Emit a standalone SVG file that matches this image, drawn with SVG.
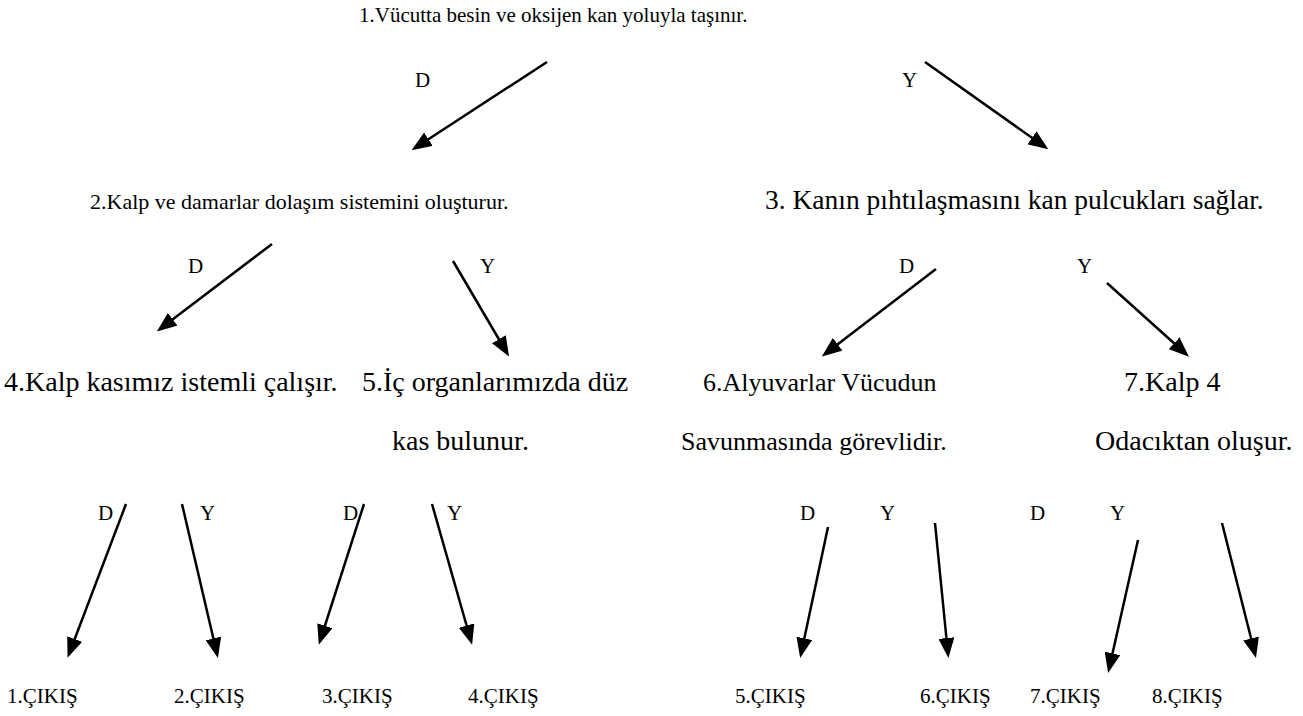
<svg xmlns="http://www.w3.org/2000/svg" width="1303" height="716" viewBox="0 0 1303 716" font-family="'Liberation Serif', 'DejaVu Serif', serif">
<style>
text{font-family:'Liberation Serif','DejaVu Serif',serif;font-size:21px;fill:#000}
.big{font-size:28px}
.mid{font-size:26px}
.c line{stroke:#000;stroke-width:2.5;marker-end:url(#ah)}
</style>
<defs>
<marker id="ah" markerUnits="userSpaceOnUse" markerWidth="20" markerHeight="16" refX="16" refY="8" orient="auto">
<path d="M0,0 L20,8 L0,16 z" fill="#000"/>
</marker>
</defs>
<rect width="1303" height="716" fill="#fff"/>
<g id="n1"><text x="359" y="22">1.Vücutta besin ve oksijen kan yoluyla taşınır.</text></g>
<g id="n2"><text x="90" y="209" style="font-size:22px">2.Kalp ve damarlar dolaşım sistemini oluşturur.</text></g>
<g id="n3"><text x="765" y="209" style="font-size:27.5px">3. Kanın pıhtılaşmasını kan pulcukları sağlar.</text></g>
<g id="n4"><text class="big" x="4" y="391">4.Kalp kasımız istemli çalışır.</text></g>
<g id="n5"><text class="big" x="362" y="391">5.İç organlarımızda düz</text><text class="big" x="392" y="450">kas bulunur.</text></g>
<g id="n6"><text class="mid" x="703" y="391">6.Alyuvarlar Vücudun</text><text class="mid" x="681" y="450">Savunmasında görevlidir.</text></g>
<g id="n7"><text class="big" x="1124" y="391">7.Kalp 4</text><text class="big" x="1095" y="450">Odacıktan oluşur.</text></g>
<g id="o1"><text x="7" y="703">1.ÇIKIŞ</text></g>
<g id="o2"><text x="174" y="703">2.ÇIKIŞ</text></g>
<g id="o3"><text x="322" y="703">3.ÇIKIŞ</text></g>
<g id="o4"><text x="468" y="703">4.ÇIKIŞ</text></g>
<g id="o5"><text x="735" y="703">5.ÇIKIŞ</text></g>
<g id="o6"><text x="920" y="703">6.ÇIKIŞ</text></g>
<g id="o7"><text x="1030" y="703">7.ÇIKIŞ</text></g>
<g id="o8"><text x="1152" y="703">8.ÇIKIŞ</text></g>
<g id="connectors" class="c">
<line x1="547" y1="62" x2="415" y2="148"/>
<line x1="925" y1="62" x2="1045" y2="147"/>
<line x1="272" y1="244" x2="160" y2="329"/>
<line x1="453" y1="261" x2="507" y2="353"/>
<line x1="936" y1="269" x2="825" y2="354"/>
<line x1="1107" y1="283" x2="1186" y2="354"/>
<line x1="126" y1="504" x2="69" y2="654"/>
<line x1="182" y1="504" x2="217" y2="654"/>
<line x1="364" y1="504" x2="320" y2="641"/>
<line x1="432" y1="504" x2="471" y2="641"/>
<line x1="828" y1="527" x2="801" y2="654"/>
<line x1="935" y1="523" x2="948" y2="654"/>
<line x1="1138" y1="540" x2="1109" y2="669"/>
<line x1="1222" y1="523" x2="1255" y2="654"/>
</g>
<g id="labels">
<text x="415" y="87">D</text>
<text x="902" y="87">Y</text>
<text x="188" y="273">D</text>
<text x="480" y="273">Y</text>
<text x="899" y="273">D</text>
<text x="1077" y="273">Y</text>
<text x="98" y="520">D</text>
<text x="200" y="520">Y</text>
<text x="343" y="520">D</text>
<text x="447" y="520">Y</text>
<text x="800" y="520">D</text>
<text x="880" y="520">Y</text>
<text x="1030" y="520">D</text>
<text x="1110" y="520">Y</text>
</g>
</svg>
